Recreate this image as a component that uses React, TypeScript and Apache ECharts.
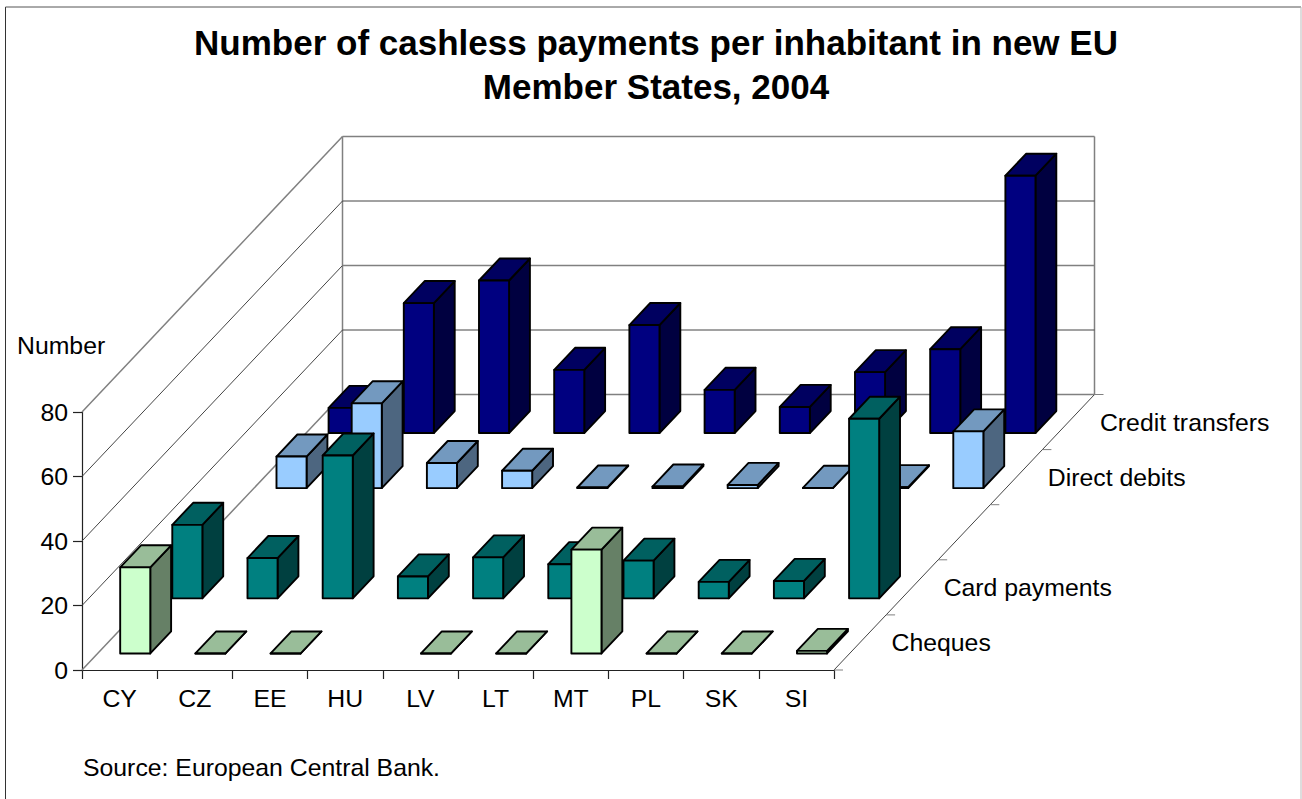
import React, { useEffect, useRef } from "react";
import * as echarts from "echarts";

const countries = ["CY", "CZ", "EE", "HU", "LV", "LT", "MT", "PL", "SK", "SI"];
const yTicks = [0, 20, 40, 60, 80];
// Depth rows from front to back; the third row holds no series and stays empty.
const depthLabels = ["Cheques", "Card payments", "", "Direct debits", "Credit transfers"];

const cheques = [26.7, 0, 0, null, 0, 0, 32.2, 0, 0, 0.8];
const cardPayments = [22.8, 12.5, 44.3, 6.8, 12.7, 10.6, 11.7, 5.1, 5.4, 55.7];
const directDebits = [9.8, 26.3, 7.8, 5.4, 0.2, 0.5, 1.0, 0.1, 0.3, 17.6];
const creditTransfers = [7.8, 40.3, 47.3, 19.6, 33.5, 13.4, 8.1, 18.9, 26, 79.8];

const FONT = '"Liberation Sans", Arial, sans-serif';
const TEXT_SIZE = 24.8;
const TITLE = "Number of cashless payments per inhabitant in new EU\nMember States, 2004";
const SOURCE = "Source: European Central Bank.";

// Oblique projection: screen shift for one step along the depth axis.
const DEPTH_X = 52.1;
const DEPTH_Y = -55.1;
const ROWS = depthLabels.length;
const BAR_HALF = 0.2; // half of a bar's width, as a share of the category band
const BAR_NEAR = 0.3; // near and far faces within a depth row
const BAR_FAR = 0.7;

// Listed back to front so that nearer rows paint over farther ones.
const rowSeries = [
  { name: "Credit transfers", row: 4, values: creditTransfers, front: "#000080", top: "#000060", side: "#000040" },
  { name: "Direct debits", row: 3, values: directDebits, front: "#99CCFF", top: "#7399BF", side: "#4D6680" },
  { name: "Card payments", row: 1, values: cardPayments, front: "#008080", top: "#006060", side: "#004040" },
  { name: "Cheques", row: 0, values: cheques, front: "#CCFFCC", top: "#99BD99", side: "#668066" },
];

const GRAY = { stroke: "#808080", lineWidth: 1.5 };
const DARK = { stroke: "#444", lineWidth: 1 };

function barRenderer(row: number, front: string, top: string, side: string) {
  return (_params: any, api: any) => {
    const v = api.value(1);
    if (v === null || v === undefined || Number.isNaN(v)) return null;
    const i = api.value(0);
    const band = api.size([1, 0])[0];
    const base = api.coord([i, 0]);
    const head = api.coord([i, v]);
    const at = (xShare: number, y: number, depth: number) => [
      base[0] + xShare * band + depth * DEPTH_X,
      y + depth * DEPTH_Y,
    ];
    const near = row + BAR_NEAR;
    const far = row + BAR_FAR;
    const l = -BAR_HALF;
    const r = BAR_HALF;
    const edge = { stroke: "#000", lineWidth: 1.9, lineJoin: "round" };
    const face = (points: number[][], fill: string) => ({
      type: "polygon",
      shape: { points },
      style: { fill, ...edge },
    });
    return {
      type: "group",
      children: [
        face([at(r, base[1], near), at(r, base[1], far), at(r, head[1], far), at(r, head[1], near)], side),
        face([at(l, head[1], near), at(r, head[1], near), at(r, head[1], far), at(l, head[1], far)], top),
        face([at(l, base[1], near), at(r, base[1], near), at(r, head[1], near), at(l, head[1], near)], front),
      ],
    };
  };
}

function wallRenderer(_params: any, api: any) {
  const v = api.value(0);
  const [x0, y] = api.coord([0, v]);
  const band = api.size([1, 0])[0];
  const left = x0 - band / 2;
  const right = left + band * countries.length;
  const dx = ROWS * DEPTH_X;
  const dy = ROWS * DEPTH_Y;
  const outer = v === 0 || v === yTicks[yTicks.length - 1];
  const backStyle = v % 40 === 0 ? GRAY : DARK;
  const seg = (x1: number, y1: number, x2: number, y2: number, style: any) => ({
    type: "line",
    shape: { x1, y1, x2, y2 },
    style,
  });
  const children: any[] = [
    seg(left, y, left + dx, y + dy, outer ? GRAY : DARK),
    seg(left + dx, y + dy, right + dx, y + dy, backStyle),
  ];
  if (v === 0) {
    const topY = api.coord([0, yTicks[yTicks.length - 1]])[1];
    children.push(
      seg(left + dx, topY + dy, left + dx, y + dy, GRAY),
      seg(right + dx, topY + dy, right + dx, y + dy, GRAY),
      seg(right, y, right + dx, y + dy, DARK),
    );
  }
  return { type: "group", children };
}

function depthAxisRenderer(params: any, api: any) {
  const step = api.value(0);
  const [x0, y0] = api.coord([0, 0]);
  const band = api.size([1, 0])[0];
  const xEdge = x0 - band / 2 + band * countries.length + step * DEPTH_X;
  const yEdge = y0 + step * DEPTH_Y;
  const children: any[] = [
    {
      type: "line",
      shape: { x1: xEdge, y1: yEdge, x2: xEdge + 9, y2: yEdge },
      style: { stroke: "#808080", lineWidth: 1 },
    },
  ];
  const label = depthLabels[params.dataIndex];
  if (label) {
    children.push({
      type: "text",
      x: xEdge + DEPTH_X / 2 + 31.5,
      y: yEdge + DEPTH_Y / 2,
      style: {
        text: label,
        font: `${TEXT_SIZE}px ${FONT}`,
        fill: "#000",
        textAlign: "left",
        textVerticalAlign: "middle",
      },
    });
  }
  return { type: "group", children };
}

export default function App() {
  const ref = useRef<HTMLDivElement>(null);

  useEffect(() => {
    const chart = echarts.init(ref.current!, undefined, { renderer: "svg" });
    chart.setOption({
      animation: false,
      backgroundColor: "#fff",
      title: {
        text: TITLE,
        left: 651,
        top: 15.5,
        textAlign: "center",
        textStyle: {
          fontFamily: FONT,
          fontWeight: "bold",
          fontSize: 35,
          lineHeight: 44,
          color: "#000",
        },
      },
      grid: { left: 82, top: 412, width: 752, height: 258 },
      xAxis: {
        type: "category",
        data: countries,
        axisLine: { show: true, onZero: false, lineStyle: { color: "#222", width: 1.2, opacity: 1 } },
        axisTick: { show: true, inside: false, length: 9, lineStyle: { color: "#222", width: 1.2, opacity: 1 } },
        axisLabel: { fontFamily: FONT, fontSize: TEXT_SIZE, color: "#000", margin: 16 },
      },
      yAxis: {
        type: "value",
        min: 0,
        max: 80,
        interval: 20,
        splitLine: { show: false },
        axisLine: { show: true, lineStyle: { color: "#222", width: 1.2, opacity: 1 } },
        axisTick: { show: true, inside: false, length: 9, lineStyle: { color: "#222", width: 1.2, opacity: 1 } },
        axisLabel: { fontFamily: FONT, fontSize: TEXT_SIZE, color: "#000", margin: 14 },
      },
      graphic: [
        { type: "line", silent: true, shape: { x1: 5.5, y1: 7, x2: 5.5, y2: 799 }, style: { stroke: "#333", lineWidth: 1 } },
        { type: "line", silent: true, shape: { x1: 5.5, y1: 7, x2: 1301, y2: 7 }, style: { stroke: "#555", lineWidth: 1 } },
        { type: "line", silent: true, shape: { x1: 1301, y1: 7, x2: 1301, y2: 799 }, style: { stroke: "#bbb", lineWidth: 1 } },
        {
          type: "text",
          x: 17,
          y: 345,
          style: { text: "Number", font: `${TEXT_SIZE}px ${FONT}`, fill: "#000", textVerticalAlign: "middle" },
        },
        {
          type: "text",
          x: 83,
          y: 767,
          style: { text: SOURCE, font: `${TEXT_SIZE}px ${FONT}`, fill: "#000", textVerticalAlign: "middle" },
        },
      ],
      series: [
        {
          type: "custom",
          name: "walls",
          silent: true,
          clip: false,
          renderItem: wallRenderer,
          encode: { x: -1, y: 0 },
          data: yTicks.map((v) => [v]),
        },
        {
          type: "custom",
          name: "depth axis",
          silent: true,
          clip: false,
          renderItem: depthAxisRenderer,
          encode: { x: -1, y: -1 },
          data: depthLabels.map((_, step) => [step]).concat([[ROWS]]),
        },
        ...rowSeries.map((s) => ({
          type: "custom",
          name: s.name,
          silent: true,
          clip: false,
          renderItem: barRenderer(s.row, s.front, s.top, s.side),
          encode: { x: 0, y: 1 },
          data: s.values.map((v, i) => [i, v]),
        })),
      ],
    });
    return () => chart.dispose();
  }, []);

  return (
    <div
      ref={ref}
      style={{ position: "fixed", left: 0, top: 0, width: 1302, height: 799 }}
    />
  );
}
